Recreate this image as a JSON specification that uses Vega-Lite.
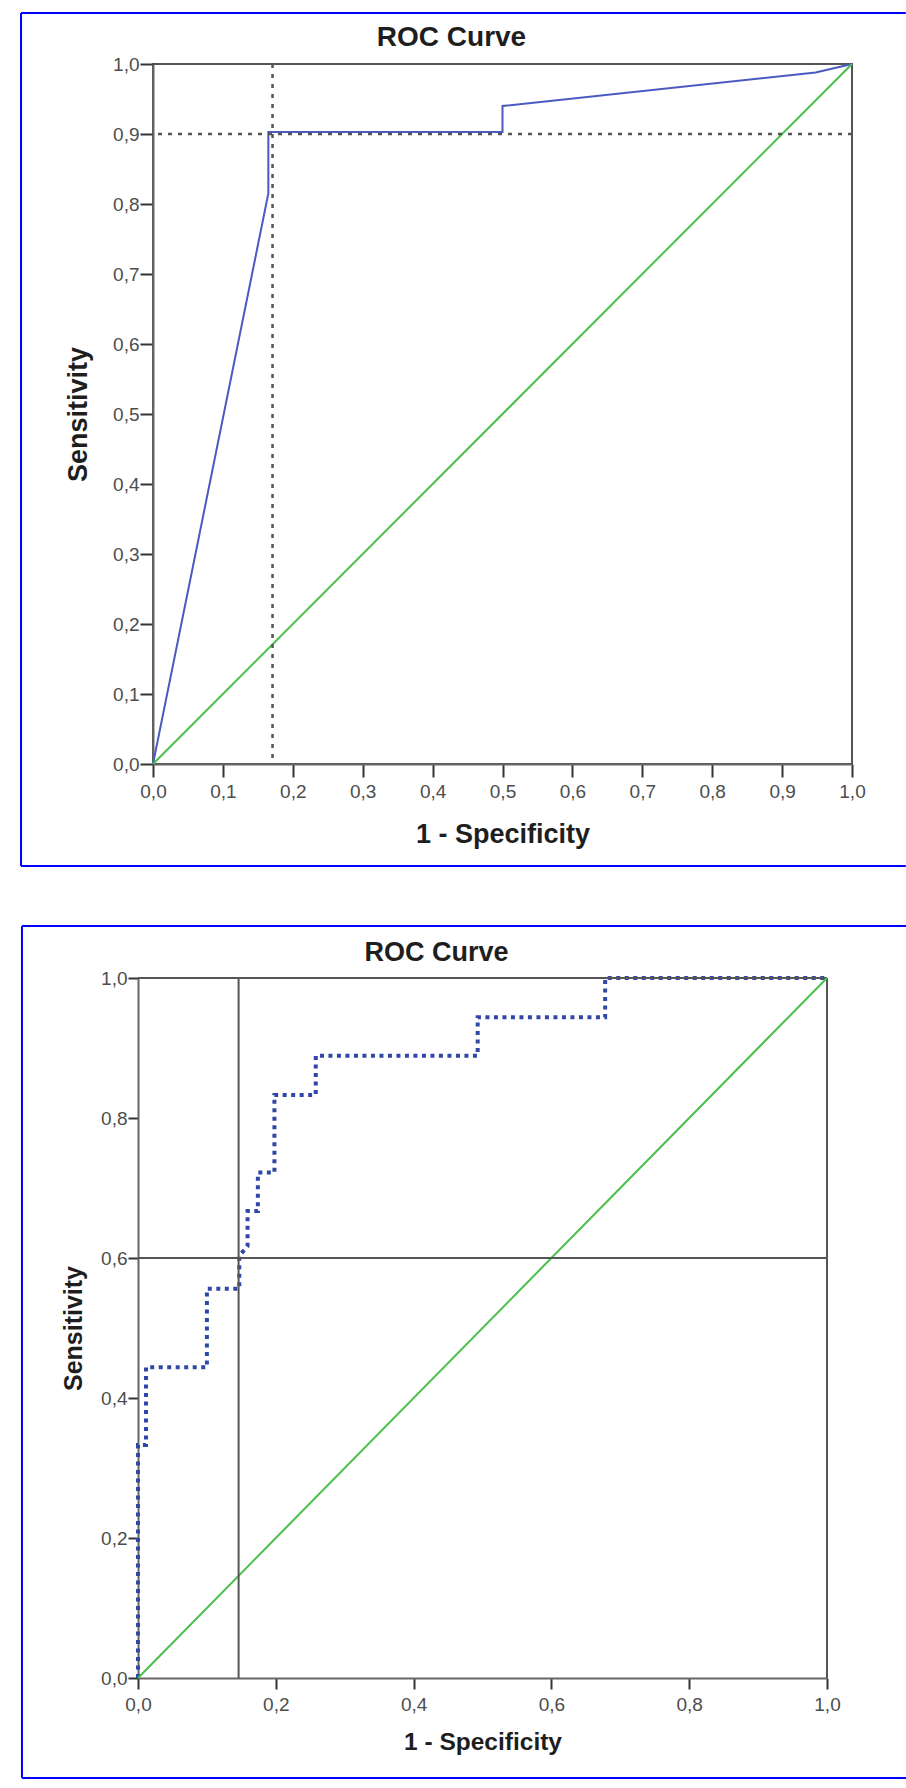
{
  "$schema": "https://vega.github.io/schema/vega-lite/v6.json",
  "padding": {"left": 19, "top": 10, "right": 0, "bottom": 0},
  "background": "white",
  "columns": 1,
  "align": "none",
  "spacing": 56,
  "config": {
    "font": "Liberation Sans",
    "view": {"stroke": "#555555", "strokeWidth": 2},
    "axis": {
      "grid": false,
      "domainColor": "#666666",
      "domainWidth": 2,
      "tickColor": "#333333",
      "tickWidth": 2,
      "labelFont": "Liberation Sans",
      "labelFontSize": 19,
      "labelColor": "#4d4d4d",
      "labelFlush": false,
      "labelOverlap": false,
      "titleFont": "Liberation Sans",
      "titleFontWeight": "bold",
      "titleColor": "#1e1e1e"
    },
    "title": {"font": "Liberation Sans", "fontWeight": "bold", "color": "#1e1e1e"}
  },
  "datasets": {
    "roc1": [
      {"i": 0, "fpr": 0, "tpr": 0},
      {"i": 1, "fpr": 0.165, "tpr": 0.815},
      {"i": 2, "fpr": 0.165, "tpr": 0.903},
      {"i": 3, "fpr": 0.5, "tpr": 0.903},
      {"i": 4, "fpr": 0.5, "tpr": 0.94},
      {"i": 5, "fpr": 0.948, "tpr": 0.988},
      {"i": 6, "fpr": 1, "tpr": 1}
    ],
    "roc2": [
      {"i": 0, "fpr": 0, "tpr": 0},
      {"i": 1, "fpr": 0, "tpr": 0.333},
      {"i": 2, "fpr": 0.0116, "tpr": 0.333},
      {"i": 3, "fpr": 0.0116, "tpr": 0.444},
      {"i": 4, "fpr": 0.1, "tpr": 0.444},
      {"i": 5, "fpr": 0.1, "tpr": 0.556},
      {"i": 6, "fpr": 0.147, "tpr": 0.556},
      {"i": 7, "fpr": 0.147, "tpr": 0.603},
      {"i": 8, "fpr": 0.159, "tpr": 0.617},
      {"i": 9, "fpr": 0.159, "tpr": 0.667},
      {"i": 10, "fpr": 0.174, "tpr": 0.667},
      {"i": 11, "fpr": 0.174, "tpr": 0.722},
      {"i": 12, "fpr": 0.198, "tpr": 0.722},
      {"i": 13, "fpr": 0.198, "tpr": 0.833},
      {"i": 14, "fpr": 0.258, "tpr": 0.833},
      {"i": 15, "fpr": 0.258, "tpr": 0.889},
      {"i": 16, "fpr": 0.493, "tpr": 0.889},
      {"i": 17, "fpr": 0.493, "tpr": 0.944},
      {"i": 18, "fpr": 0.678, "tpr": 0.944},
      {"i": 19, "fpr": 0.678, "tpr": 1},
      {"i": 20, "fpr": 1, "tpr": 1}
    ],
    "diag": [
      {"i": 0, "fpr": 0, "tpr": 0},
      {"i": 1, "fpr": 1, "tpr": 1}
    ],
    "cut1": [{"fpr": 0.171, "tpr": 0.9}],
    "cut2": [{"fpr": 0.146, "tpr": 0.6}]
  },
  "concat": [
    {
      "width": 699,
      "height": 700,
      "title": {"text": "ROC Curve", "fontSize": 28, "anchor": "middle", "frame": "group", "dx": -51, "offset": -40},
      "layer": [
        {
          "data": {"name": "roc1"},
          "mark": {"type": "line", "color": "#4a5ac0", "strokeWidth": 2},
          "encoding": {
            "x": {
              "field": "fpr", "type": "quantitative",
              "scale": {"domain": [0, 1], "nice": false},
              "axis": {
                "title": "1 - Specificity", "titleFontSize": 27, "titlePadding": 20,
                "values": [0, 0.1, 0.2, 0.3, 0.4, 0.5, 0.6, 0.7, 0.8, 0.9, 1],
                "labelExpr": "replace(format(datum.value, '.1f'), '.', ',')",
                "tickSize": 13, "labelPadding": 5
              }
            },
            "y": {
              "field": "tpr", "type": "quantitative",
              "scale": {"domain": [0, 1], "nice": false},
              "axis": {
                "title": "Sensitivity", "titleFontSize": 27, "titlePadding": 20,
                "values": [0, 0.1, 0.2, 0.3, 0.4, 0.5, 0.6, 0.7, 0.8, 0.9, 1],
                "labelExpr": "replace(format(datum.value, '.1f'), '.', ',')",
                "tickSize": 13, "labelPadding": 1
              }
            },
            "order": {"field": "i"}
          }
        },
        {
          "data": {"values": [{}]},
          "mark": {"type": "rule", "color": "#0000ff", "strokeWidth": 2},
          "encoding": {
            "x": {"datum": -0.1888, "type": "quantitative", "scale": {"domain": [0, 1], "nice": false}},
            "x2": {"datum": 1.077},
            "y": {"datum": 1.0729, "type": "quantitative", "scale": {"domain": [0, 1], "nice": false}}
          }
        },
        {
          "data": {"values": [{}]},
          "mark": {"type": "rule", "color": "#0000ff", "strokeWidth": 2},
          "encoding": {
            "x": {"datum": -0.1888, "type": "quantitative", "scale": {"domain": [0, 1], "nice": false}},
            "x2": {"datum": 1.077},
            "y": {"datum": -0.1457, "type": "quantitative", "scale": {"domain": [0, 1], "nice": false}}
          }
        },
        {
          "data": {"values": [{}]},
          "mark": {"type": "rule", "color": "#0000ff", "strokeWidth": 2},
          "encoding": {
            "x": {"datum": -0.1888, "type": "quantitative", "scale": {"domain": [0, 1], "nice": false}},
            "y": {"datum": -0.1457, "type": "quantitative", "scale": {"domain": [0, 1], "nice": false}},
            "y2": {"datum": 1.0729}
          }
        },
        {
          "data": {"name": "diag"},
          "mark": {"type": "line", "color": "#48bf48", "strokeWidth": 2},
          "encoding": {
            "x": {"field": "fpr", "type": "quantitative", "scale": {"domain": [0, 1], "nice": false}},
            "y": {"field": "tpr", "type": "quantitative", "scale": {"domain": [0, 1], "nice": false}},
            "order": {"field": "i"}
          }
        },
        {
          "data": {"name": "cut1"},
          "mark": {"type": "rule", "color": "#555555", "strokeWidth": 2.5, "strokeDash": [4, 6]},
          "encoding": {
            "x": {"field": "fpr", "type": "quantitative", "scale": {"domain": [0, 1], "nice": false}}
          }
        },
        {
          "data": {"name": "cut1"},
          "mark": {"type": "rule", "color": "#555555", "strokeWidth": 2.5, "strokeDash": [4, 6]},
          "encoding": {
            "y": {"field": "tpr", "type": "quantitative", "scale": {"domain": [0, 1], "nice": false}}
          }
        }
      ]
    },
    {
      "width": 689,
      "height": 700,
      "view": {"stroke": null},
      "title": {"text": "ROC Curve", "fontSize": 27, "anchor": "middle", "frame": "group", "dx": -61, "offset": -42},
      "layer": [
        {
          "data": {"name": "roc2"},
          "mark": {"type": "line", "color": "#3047a8", "strokeWidth": 4, "strokeDash": [4, 4.5]},
          "encoding": {
            "x": {
              "field": "fpr", "type": "quantitative",
              "scale": {"domain": [0, 1], "nice": false, "range": [-15, 674]},
              "axis": {
                "title": "1 - Specificity", "titleFontSize": 24.5, "titlePadding": 16,
                "values": [0, 0.2, 0.4, 0.6, 0.8, 1],
                "labelExpr": "replace(format(datum.value, '.1f'), '.', ',')",
                "tickSize": 11, "labelPadding": 6
              }
            },
            "y": {
              "field": "tpr", "type": "quantitative",
              "scale": {"domain": [0, 1], "nice": false},
              "axis": {
                "title": "Sensitivity", "titleFontSize": 25, "titlePadding": 14, "offset": 15,
                "values": [0, 0.2, 0.4, 0.6, 0.8, 1],
                "labelExpr": "replace(format(datum.value, '.1f'), '.', ',')",
                "tickSize": 10, "labelPadding": 1
              }
            },
            "order": {"field": "i"}
          }
        },
        {
          "data": {"values": [{}]},
          "mark": {"type": "rule", "color": "#0000ff", "strokeWidth": 2},
          "encoding": {
            "x": {"datum": -0.1684, "type": "quantitative", "scale": {"domain": [0, 1], "nice": false, "range": [-15, 674]}},
            "x2": {"datum": 1.1147},
            "y": {"datum": 1.0743, "type": "quantitative", "scale": {"domain": [0, 1], "nice": false}}
          }
        },
        {
          "data": {"values": [{}]},
          "mark": {"type": "rule", "color": "#0000ff", "strokeWidth": 2},
          "encoding": {
            "x": {"datum": -0.1684, "type": "quantitative", "scale": {"domain": [0, 1], "nice": false, "range": [-15, 674]}},
            "x2": {"datum": 1.1147},
            "y": {"datum": -0.1429, "type": "quantitative", "scale": {"domain": [0, 1], "nice": false}}
          }
        },
        {
          "data": {"values": [{}]},
          "mark": {"type": "rule", "color": "#0000ff", "strokeWidth": 2},
          "encoding": {
            "x": {"datum": -0.1684, "type": "quantitative", "scale": {"domain": [0, 1], "nice": false, "range": [-15, 674]}},
            "y": {"datum": -0.1429, "type": "quantitative", "scale": {"domain": [0, 1], "nice": false}},
            "y2": {"datum": 1.0743}
          }
        },
        {
          "data": {"values": [{}]},
          "mark": {"type": "rule", "color": "#555555", "strokeWidth": 2},
          "encoding": {
            "x": {"datum": 0, "type": "quantitative", "scale": {"domain": [0, 1], "nice": false, "range": [-15, 674]}},
            "x2": {"datum": 1},
            "y": {"datum": 1, "type": "quantitative", "scale": {"domain": [0, 1], "nice": false}}
          }
        },
        {
          "data": {"values": [{}]},
          "mark": {"type": "rule", "color": "#555555", "strokeWidth": 2},
          "encoding": {
            "x": {"datum": 1, "type": "quantitative", "scale": {"domain": [0, 1], "nice": false, "range": [-15, 674]}},
            "y": {"datum": 0, "type": "quantitative", "scale": {"domain": [0, 1], "nice": false}},
            "y2": {"datum": 1}
          }
        },
        {
          "data": {"name": "diag"},
          "mark": {"type": "line", "color": "#48bf48", "strokeWidth": 2},
          "encoding": {
            "x": {"field": "fpr", "type": "quantitative", "scale": {"domain": [0, 1], "nice": false, "range": [-15, 674]}},
            "y": {"field": "tpr", "type": "quantitative", "scale": {"domain": [0, 1], "nice": false}},
            "order": {"field": "i"}
          }
        },
        {
          "data": {"name": "cut2"},
          "mark": {"type": "rule", "color": "#555555", "strokeWidth": 2},
          "encoding": {
            "x": {"field": "fpr", "type": "quantitative", "scale": {"domain": [0, 1], "nice": false, "range": [-15, 674]}},
            "y": {"datum": 0, "type": "quantitative", "scale": {"domain": [0, 1], "nice": false}},
            "y2": {"datum": 1}
          }
        },
        {
          "data": {"name": "cut2"},
          "mark": {"type": "rule", "color": "#555555", "strokeWidth": 2},
          "encoding": {
            "y": {"field": "tpr", "type": "quantitative", "scale": {"domain": [0, 1], "nice": false}},
            "x": {"datum": 0, "type": "quantitative", "scale": {"domain": [0, 1], "nice": false, "range": [-15, 674]}},
            "x2": {"datum": 1}
          }
        }
      ]
    }
  ]
}
